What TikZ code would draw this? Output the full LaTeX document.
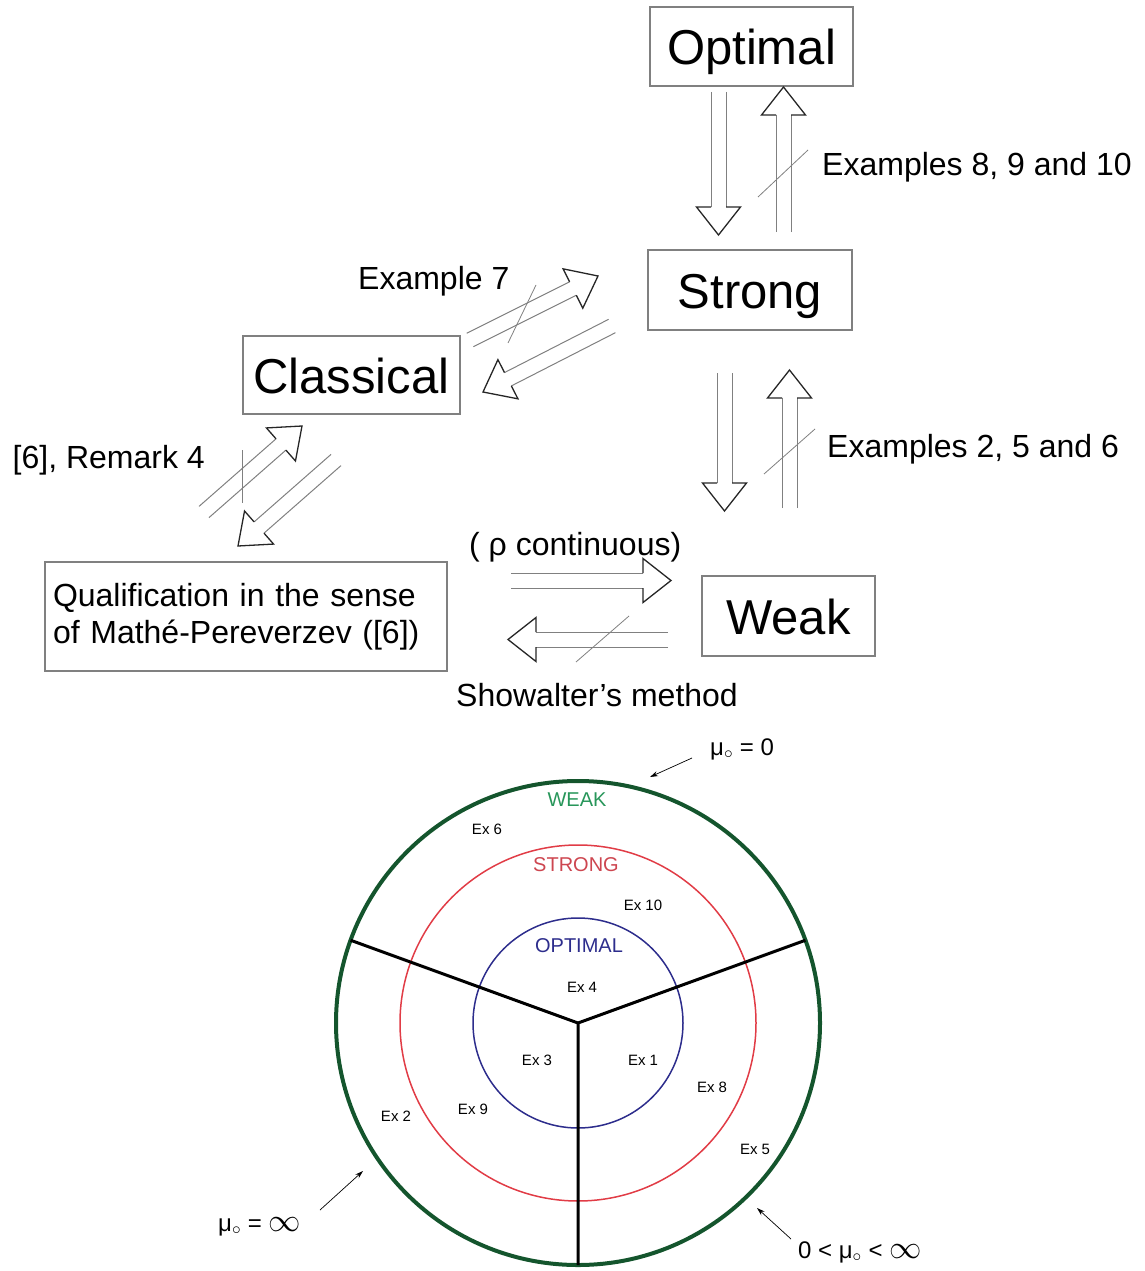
\documentclass[tikz,border=0pt]{standalone}
\usepackage{fontspec}
\setmainfont{Liberation Sans}
\usepackage{graphicx}
\usetikzlibrary{calc}
\usetikzlibrary{arrows.meta}

\definecolor{ringgreen}{RGB}{20,85,45}
\definecolor{weakgreen}{RGB}{40,150,90}
\definecolor{ringred}{RGB}{225,60,70}
\definecolor{strongred}{RGB}{205,70,80}
\definecolor{ringblue}{RGB}{45,45,140}

\tikzset{
  bigbox/.style={draw=gray, line width=1.2pt, inner sep=0pt, text height=36pt, text depth=0pt, font=\fontsize{49}{55}\selectfont},
  remark/.style={inner sep=0pt, font=\fontsize{32}{37}\selectfont},
  shaftline/.style={gray, line width=1pt},
  headline/.style={black!85, line width=1.3pt, line join=miter},
  slash/.style={gray, line width=0.8pt},
  ringtext/.style={font=\fontsize{20}{24}\selectfont},
  extext/.style={font=\fontsize{15}{18}\selectfont},
  mutext/.style={anchor=base west, inner sep=0pt, font=\fontsize{24}{28}\selectfont},
  pointer/.style={-{Stealth[length=8pt,width=5pt]}, line width=0.7pt}
}

% hollow double arrow from #1 (tail) to #2 (tip)
\newcommand{\hollowarrow}[2]{%
  \coordinate (hb) at ($(#2)!28pt!(#1)$);
  \draw[shaftline] ($(#1)!7.5pt!90:(#2)$) -- ($(hb)!7.5pt!-90:(#1)$)
                   ($(#1)!7.5pt!-90:(#2)$) -- ($(hb)!7.5pt!90:(#1)$);
  \draw[headline] ($(hb)!7.5pt!-90:(#1)$) -- ($(hb)!22pt!-90:(#1)$) -- (#2)
                  -- ($(hb)!22pt!90:(#1)$) -- ($(hb)!7.5pt!90:(#1)$);
}

\begin{document}
\begin{tikzpicture}[x=1pt,y=-1pt]
\useasboundingbox (0,0) rectangle (1144,1271);

% boxes
\node[bigbox, minimum width=203pt, minimum height=79pt] (opt) at (751.5,46.5) {Optimal};
\node[bigbox, minimum width=204pt, minimum height=80pt] (str) at (750,290) {Strong};
\node[bigbox, minimum width=217pt, minimum height=78pt] (cla) at (351.5,375) {Classical};
\node[bigbox, minimum width=173pt, minimum height=80pt] (wea) at (788.5,616) {Weak};
\node[draw=gray, line width=1.2pt, remark, inner sep=8pt, text width=386pt, minimum height=109pt, align=left] (qua) at (246,616.5)
  {Qualification in the sense\\of Mathé-Pereverzev ([6])};

% labels
\node[remark, anchor=base west] (lab8) at (822,175) {Examples 8, 9 and 10};
\node[remark, anchor=base west] (lab2) at (827,457) {Examples 2, 5 and 6};
\node[remark, anchor=base west] (lab7) at (358,289) {Example 7};
\node[remark, anchor=base east] (lab6) at (205,468) {[6], Remark 4};
\node[remark, anchor=base west] (labrho) at (469,555) {( ρ continuous)};
\node[remark, anchor=base west] (labsh) at (456,706) {Showalter’s method};

% arrow ends
\coordinate (os1) at (718.5,92);  \coordinate (os2) at (718.5,235);
\coordinate (so1) at (783.5,232); \coordinate (so2) at (783.5,87);
\coordinate (sw1) at (724.5,373); \coordinate (sw2) at (724.5,511);
\coordinate (ws1) at (789.5,508); \coordinate (ws2) at (789.5,370);
\coordinate (cs1) at (470,340);   \coordinate (cs2) at (598,276);
\coordinate (sc1) at (612,326);   \coordinate (sc2) at (483,392);
\coordinate (qc1) at (204,512);   \coordinate (qc2) at (302,426);
\coordinate (cq1) at (336,460);   \coordinate (cq2) at (238,546);
\coordinate (qw1) at (511,580.5); \coordinate (qw2) at (671,580.5);
\coordinate (wq1) at (668,639.5); \coordinate (wq2) at (508,639.5);

\hollowarrow{os1}{os2}
\hollowarrow{so1}{so2}
\hollowarrow{sw1}{sw2}
\hollowarrow{ws1}{ws2}
\hollowarrow{cs1}{cs2}
\hollowarrow{sc1}{sc2}
\hollowarrow{qc1}{qc2}
\hollowarrow{cq1}{cq2}
\hollowarrow{qw1}{qw2}
\hollowarrow{wq1}{wq2}

% negations
\draw[slash] (758,197) -- (808,150);
\draw[slash] (764,474) -- (815,429);
\draw[slash] (508,343) -- (536,285);
\draw[slash] (242,450) -- (242,503);
\draw[slash] (576,662) -- (629,616);

% rings
\coordinate (c) at (578,1023);
\draw[ringgreen, line width=4pt] (c) circle[radius=242pt];
\draw[ringred, line width=1.5pt] (c) circle[radius=178pt];
\draw[ringblue, line width=1.5pt] (c) circle[radius=105pt];
\draw[line width=3pt] ($(c)+(160:242pt)$) -- (c) -- ($(c)+(20:242pt)$) (c) -- ($(c)+(270:242pt)$);

\node[ringtext, text=weakgreen] (tweak) at (577,800) {WEAK};
\node[ringtext, text=strongred] (tstrong) at (576,865) {STRONG};
\node[ringtext, text=ringblue] (toptimal) at (579,946) {OPTIMAL};

\node[extext] (e6) at (487,829) {Ex 6};
\node[extext] (e10) at (643,905) {Ex 10};
\node[extext] (e4) at (582,987) {Ex 4};
\node[extext] (e3) at (537,1060) {Ex 3};
\node[extext] (e1) at (643,1060) {Ex 1};
\node[extext] (e8) at (712,1087) {Ex 8};
\node[extext] (e9) at (473,1109) {Ex 9};
\node[extext] (e2) at (396,1116) {Ex 2};
\node[extext] (e5) at (755,1149) {Ex 5};

% mu labels
\node[mutext] (mu0) at (710,755) {μ$_\circ$ = 0};
\node[mutext] (muinf) at (218,1231) {μ$_\circ$ = \scalebox{1.3}{$\infty$}};
\node[mutext] (mumid) at (798,1258) {0 < μ$_\circ$ < \scalebox{1.3}{$\infty$}};
\coordinate (p0) at (692,758);   \coordinate (q0) at (650,777);
\coordinate (p1) at (320,1210);  \coordinate (q1) at (363,1171);
\coordinate (p2) at (791,1239);  \coordinate (q2) at (757,1208);
\draw[pointer] (p0) -- (q0);
\draw[pointer] (p1) -- (q1);
\draw[pointer] (p2) -- (q2);
\end{tikzpicture}
\end{document}
